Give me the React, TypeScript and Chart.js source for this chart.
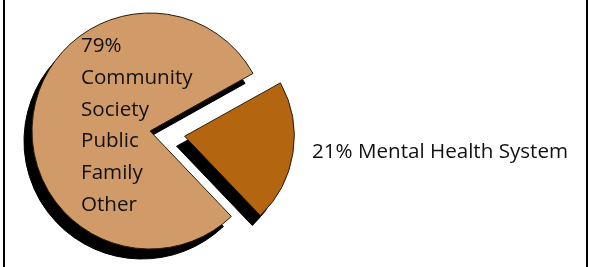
import React, { useEffect, useRef } from "react";
import { Chart, registerables } from "chart.js";

Chart.register(...registerables);

const categories = ["Mental Health System", "Community, Society, Public, Family, Other"];
const shares = [21, 79];
const sliceColors = ["#B3650F", "#D09A69"];
const insideLines = ["79%", "Community", "Society", "Public", "Family", "Other"];
const outsideLabel = "21% Mental Health System";

const FONT = "20.6px 'Open Sans', sans-serif";
const SHADOW_DX = -8;
const SHADOW_DY = 10;

const radiusPlugin = {
  id: "sliceRadius",
  afterDatasetUpdate(chart: any) {
    const arc = chart.getDatasetMeta(0).data[0];
    if (arc) arc.outerRadius = arc.outerRadius * 0.92;
  },
};

const shadowPlugin = {
  id: "pieShadow",
  beforeDatasetsDraw(chart: any) {
    const ctx = chart.ctx;
    const arcs = chart.getDatasetMeta(0).data;
    arcs.forEach((el: any) => {
      const o = el.options;
      const bg = o.backgroundColor;
      const bc = o.borderColor;
      o.backgroundColor = "#000000";
      o.borderColor = "#000000";
      ctx.save();
      ctx.translate(SHADOW_DX, SHADOW_DY);
      el.draw(ctx);
      ctx.restore();
      o.backgroundColor = bg;
      o.borderColor = bc;
    });
  },
};

const labelPlugin = {
  id: "pieLabels",
  afterDraw(chart: any) {
    const ctx = chart.ctx;
    const arc = chart.getDatasetMeta(0).data[1];
    if (!arc) return;
    const cx = arc.x;
    const cy = arc.y;
    ctx.save();
    ctx.font = FONT;
    ctx.fillStyle = "#111111";
    ctx.textAlign = "left";
    ctx.textBaseline = "alphabetic";
    insideLines.forEach((t, i) => {
      ctx.fillText(t, cx - 69, cy - 79 + i * 31.8);
    });
    ctx.fillText(outsideLabel, cx + 162, cy + 27);
    ctx.restore();
  },
};

export default function App() {
  const ref = useRef<HTMLCanvasElement | null>(null);

  useEffect(() => {
    document.body.style.margin = "0";
    if (!ref.current) return;
    const chart = new Chart(ref.current, {
      type: "pie",
      data: {
        labels: categories,
        datasets: [
          {
            data: shares,
            backgroundColor: sliceColors,
            borderColor: "#2a1a08",
            borderWidth: 1,
            offset: [140, 0],
            radius: 118,
          } as any,
        ],
      },
      options: {
        animation: false,
        responsive: false,
        rotation: 60.8,
        layout: { padding: { left: 0, top: 0, right: 289, bottom: 5 } },
        plugins: {
          legend: { display: false },
          tooltip: { enabled: false },
        },
      } as any,
      plugins: [radiusPlugin, shadowPlugin, labelPlugin],
    });
    return () => chart.destroy();
  }, []);

  return (
    <div style={{ position: "fixed", left: 0, top: 0, width: 589, height: 267, background: "#fff" }}>
      <canvas ref={ref} width={589} height={267} style={{ position: "absolute", left: 0, top: 0 }} />
      <div
        style={{
          position: "absolute",
          left: 3,
          top: 0,
          width: 581,
          height: 267,
          borderLeft: "2px solid #000",
          borderRight: "2px solid #000",
          pointerEvents: "none",
        }}
      />
    </div>
  );
}
